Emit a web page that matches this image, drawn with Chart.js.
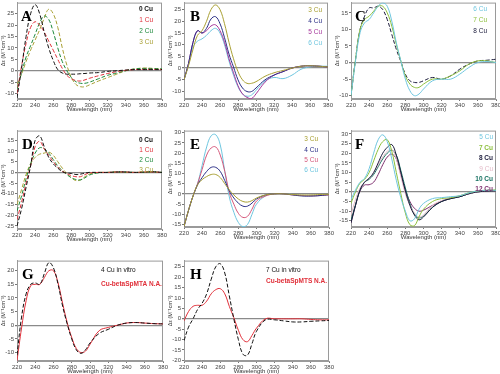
<!DOCTYPE html>
<html>
<head>
<meta charset="utf-8">
<script src="https://cdn.jsdelivr.net/npm/chart.js@4.4.0/dist/chart.umd.min.js"></script>
<style>
  body { margin: 0; background: #fff; width: 500px; height: 374px; position: relative; overflow: hidden; }
  canvas { position: absolute; }
</style>
</head>
<body>
<script>
// shared wavelength grid (nm)
const wl = [220, 225, 230, 235, 240, 245, 250, 255, 260, 265, 270, 275, 280, 285, 290, 295, 300, 310, 320, 330, 340, 350, 360, 370, 380];

// Panel A
const labelsA = ['0 Cu', '1 Cu', '2 Cu', '3 Cu'];
const a0 = [-12, 1, 15, 25, 29, 25, 17, 10, 4.5, 0.5, -1, -1.5, -1.5, -1.5, -1.3, -1.2, -1, -0.8, -0.3, 0, 0.3, 0.5, 0.5, 0.5, 0.5];
const a1 = [-10, 2, 12, 19, 21.5, 20, 17, 13, 9, 5, 1, -2, -3.5, -4.3, -4.5, -4, -3.3, -2.2, -1.2, -0.4, 0.2, 0.5, 0.6, 0.6, 0.5];
const a2 = [-8, -1, 6, 11, 16, 21, 24, 22.5, 17, 10, 4, 0, -3, -4.8, -5.5, -5.5, -5, -3.5, -2, -1, 0, 0.8, 1, 1, 0.8];
const a3 = [-6, -1.5, 4, 9, 13.5, 18, 23, 27, 25, 19, 10, 2.5, -3, -6, -7, -7, -6.2, -4.5, -3, -1.5, 0, 0.8, 1.2, 1, 0.8];
const yRangeA = [-12.4, 29.9];

// Panel B
const labelsB = ['3 Cu', '4 Cu', '5 Cu', '6 Cu'];
const b3 = [-5, 1, 8, 14, 16, 20, 25, 27, 25, 19, 11, 4, -1.5, -5, -6.5, -6.5, -5.8, -3.5, -2, -1, 0, 0.8, 1, 0.8, 0.5];
const b4 = [-5, 2, 11, 16, 15, 17, 21, 22, 19, 13, 6, 0.5, -5, -8.5, -10, -10, -8.5, -5, -3, -1.5, 0, 0.8, 1, 0.8, 0.5];
const b5 = [-5, 2, 11, 16, 15, 16, 18, 18.5, 16, 11, 4, -2, -7.5, -11, -12.5, -13, -11, -6, -3, -1.5, 0, 0.8, 1, 0.8, 0.5];
const b6 = [-5, 1.5, 9, 11.5, 12.5, 14, 16, 17, 15, 10, 3, -3, -8, -11, -12, -11.5, -9.5, -5.5, -4, -4.5, -3, -0.5, 0.5, 0.8, 0.8];
const yRangeB = [-13.2, 28];

// Panel C
const labelsC = ['6 Cu', '7 Cu', '8 Cu'];
const c6 = [-10, 0.5, 9, 12, 13, 15, 17, 18, 17, 12.5, 6, 0.5, -5, -8.5, -10, -9.5, -8, -5.5, -5, -5, -3.5, -1.5, 0, 0.3, 0];
const c7 = [-10, 1, 10, 13, 14, 15.5, 17, 17, 15, 11, 5.5, 0.5, -4, -6.5, -7.5, -7.5, -6.5, -5, -5, -4, -2.5, -0.5, 0.5, 0.5, 0];
const c8 = [-10, 1, 10, 14, 16.5, 16.5, 17, 16, 13, 8.5, 4, 0.3, -3.5, -5.5, -6, -6, -5.5, -4.5, -5, -4, -2, -0.5, 0.5, 0.7, 1];
const yRangeC = [-11, 18.1];

// Panel D
const labelsD = ['0 Cu', '1 Cu', '2 Cu', '3 Cu'];
const d0 = [-25, -17, -7, 3, 15, 17, 12, 7, 4, 2, 0.3, -0.3, -0.5, -1, -0.8, -0.3, 0, 0, 0, 0.2, 0.2, 0, 0.2, 0.3, 0];
const d1 = [-22, -14, -5, 3, 12, 14.5, 11, 8, 5, 2.5, 0.5, -0.5, -1.5, -2, -2, -1, -0.3, 0, 0, 0.2, 0.2, 0, 0.2, 0.2, 0];
const d2 = [-18, -11, -3, 4, 9, 11.5, 11, 9, 6, 3, 0.8, -1, -2.5, -3.3, -3.5, -2.5, -1.2, -0.2, 0, 0.2, 0.2, 0, 0, 0.2, 0];
const d3 = [-15, -8, -1, 4, 7, 8.5, 9, 9.5, 8, 5, 2, -0.5, -2.5, -3.8, -3.5, -2, -0.8, 0, 0, 0.2, 0, 0, 0, 0.2, 0];
const yRangeD = [-26.4, 19.5];

// Panel E
const labelsE = ['3 Cu', '4 Cu', '5 Cu', '6 Cu'];
const e3 = [-16, -8, -1, 4.5, 7, 8.5, 9.5, 9.5, 8, 5, 2, -0.5, -2.5, -3.7, -4, -3.3, -2, -0.5, 0, 0, -0.3, -0.5, -0.5, -0.3, -0.2];
const e4 = [-16, -8, -1, 4.5, 8, 11, 13, 13, 11, 6.5, 1.5, -2, -4.5, -6, -6, -4.5, -2.5, -0.5, 0, 0, -0.5, -1, -1, -0.8, -0.3];
const e5 = [-16, -8, -1, 5, 12, 19, 22.5, 23, 19, 11, 0.8, -5, -9.5, -11.5, -11, -7.5, -3.5, -1, 0, 0, -0.5, -0.8, -1, -0.8, -0.5];
const e6 = [-16, -8, -1, 5, 14, 23, 28.5, 29, 24, 11, -1.5, -9, -14, -16, -15, -10, -5, -1, 0, 0, -0.3, -0.8, -1, -0.8, -0.5];
const yRangeE = [-16.2, 31];

// Panel F
const labelsF = ['5 Cu', '7 Cu', '8 Cu', '9 Cu', '10 Cu', '12 Cu'];
const f5 = [-4, 1, 5, 7, 12, 20, 27, 29.5, 26, 17, 6, -3, -10, -15, -14, -9, -6, -3.5, -3, -2.5, -2, -0.5, 0.5, 0.8, 0.8];
const f7 = [-6, 0, 4.5, 6.5, 10, 16, 22, 26, 27, 21, 10, -1, -11, -17, -17.5, -13, -9, -5, -3.5, -3, -2, -0.5, 0.5, 0.8, 1];
const f8 = [-16, -7, 1, 5, 7, 10, 15, 20, 23, 24.5, 19, 10, 0.5, -7, -12, -14.5, -13, -8, -5, -3.5, -2.5, -1, 0, 0.3, 0.5];
const f9 = [-12, -4, 2, 5, 7, 10, 14, 18, 21, 22, 17, 8, -1, -7, -11, -13, -12, -7, -4.5, -3, -2, -1, 0, 0.3, 0.5];
const f10 = [-15, -6.5, 1, 5, 6.5, 9, 13, 17, 20, 21.5, 19, 11, 2, -6, -11.5, -13.5, -12.5, -8, -5, -3.5, -2.5, -1, 0, 0.3, 0.5];
const f12 = [-16, -7, 0.5, 3.5, 3.7, 5, 9, 14, 18, 19.5, 17, 9, 1, -5, -8.5, -10, -9.5, -7, -5, -3.5, -2.5, -1, 0, 0.3, 0.5];
const yRangeF = [-18.2, 31.7];

// Panel G
const labelsG = ['4 Cu in vitro', 'Cu-betaSpMTA N.A.'];
const gVitro = [-11, 3, 11.5, 15, 15.5, 15, 19, 23, 21, 15, 7, 0.5, -5, -9, -10.3, -9, -6.5, -3, -1.5, 0, 0.8, 1, 0.8, 0.6, 0.5];
const gNat = [-13, -1, 9, 14.5, 15, 15, 17.5, 20, 20, 15.5, 8, 1, -4.5, -8.5, -10, -9.5, -7, -2, -0.8, 0, 0.8, 1, 0.8, 0.6, 0.5];
const yRangeG = [-13.1, 23.7];

// Panel H
const labelsH = ['7 Cu in vitro', 'Cu-betaSpMTS N.A.'];
const hVitro = [-10.5, -4, 0, 4.5, 7.5, 12, 19, 25, 26.5, 22, 11, 0, -10, -17, -17.5, -12, -6, -0.5, -0.5, -1, -1.5, -1.5, -1.2, -1, -0.8];
const hNat = [-1, 3.5, 6, 6.5, 6.5, 8.5, 12, 14, 14.5, 12, 6, 0.5, -5.5, -10, -11, -8, -4.5, 0, 0, 0, 0, 0, -0.3, -0.5, -0.5];
const yRangeH = [-20.3, 28];

const FONT = "'Liberation Sans', Arial, sans-serif";
const DASH = [4, 2];

// frame, panel letter and text legend
const deco = {
  id: 'deco',
  beforeDatasetsDraw(chart) {
    const a = chart.chartArea, ctx = chart.ctx;
    ctx.save();
    ctx.strokeStyle = '#9a9a9a';
    ctx.lineWidth = 1;
    ctx.strokeRect(a.left + 0.5, a.top + 0.5, a.right - a.left - 1, a.bottom - a.top - 1);
    ctx.restore();
  },
  afterDraw(chart, args, o) {
    const a = chart.chartArea, ctx = chart.ctx;
    ctx.save();
    ctx.fillStyle = '#000';
    ctx.font = "bold 15px 'Liberation Serif', 'Times New Roman', serif";
    ctx.textBaseline = 'alphabetic';
    ctx.textAlign = 'left';
    ctx.fillText(o.letter, a.left + o.lx, a.top + 18);
    ctx.textBaseline = 'middle';
    ctx.textAlign = o.align;
    const x = o.align === 'right' ? a.right - o.dx : a.left + o.dx;
    chart.data.datasets.forEach((ds, i) => {
      ctx.font = (ds.boldLabel ? 'bold ' : '') + '6.5px ' + FONT;
      ctx.fillStyle = ds.borderColor;
      ctx.fillText(ds.label, x, a.top + o.dy + i * o.gap);
    });
    ctx.restore();
  }
};

function makePanel(rect, yRange, series, legend) {
  const cv = document.createElement('canvas');
  const padTop = 2, padRight = 8, yW = 17, xH = 14;
  cv.width = rect.r - rect.l + yW + padRight;
  cv.height = rect.b - rect.t + padTop + xH;
  cv.style.left = (rect.l - yW) + 'px';
  cv.style.top = (rect.t - padTop) + 'px';
  document.body.appendChild(cv);

  new Chart(cv, {
    type: 'line',
    data: {
      datasets: series.map(s => ({
        label: s.label,
        data: wl.map((x, i) => ({ x: x, y: s.values[i] })),
        borderColor: s.color,
        borderWidth: 1,
        borderDash: s.dash ? DASH : [],
        boldLabel: !!s.bold,
        pointRadius: 0,
        tension: 0.4,
        fill: false
      }))
    },
    options: {
      responsive: false,
      animation: false,
      devicePixelRatio: 1,
      layout: { padding: { left: 0, top: padTop, right: padRight, bottom: 0 } },
      plugins: { legend: { display: false }, tooltip: { enabled: false }, deco: legend },
      scales: {
        x: {
          type: 'linear', min: 220, max: 380,
          afterFit: s => { s.height = xH; },
          ticks: { stepSize: 20, maxRotation: 0, autoSkip: false, padding: 1, color: '#444', font: { size: 6, family: FONT } },
          grid: { color: 'transparent', drawOnChartArea: false, tickColor: '#777', tickLength: 2 },
          border: { color: '#9a9a9a' },
          title: { display: true, text: 'Wavelength (nm)', color: '#333', padding: 0, font: { size: 6, family: FONT } }
        },
        y: {
          min: yRange[0], max: yRange[1],
          afterFit: s => { s.width = yW; },
          ticks: { stepSize: 5, includeBounds: false, padding: 1, color: '#444', font: { size: 6, family: FONT } },
          grid: {
            color: c => (c.tick && c.tick.value === 0 ? '#8a8a8a' : 'transparent'),
            lineWidth: c => (c.tick && c.tick.value === 0 ? 1.3 : 1),
            tickColor: '#777', tickLength: 2
          },
          border: { color: '#9a9a9a' },
          title: { display: true, text: 'Δε (M⁻¹cm⁻¹)', color: '#333', padding: 0, font: { size: 5.5, family: FONT } }
        }
      }
    },
    plugins: [deco]
  });
}

const cBlack = '#111111', cRed = '#e0303a', cGreen = '#1e8a3c', cOlive = '#a9a035';
const cNavy = '#2b2f86', cMagenta = '#a5359a', cCyan = '#6fc6df', cPink = '#d4577a';
const cLime = '#8cbf3c', cDark = '#1c1c3c', cRose = '#e2b8c6', cTeal = '#136e5e', cPurple = '#7e2f6e';

makePanel({ l: 17, r: 162, t: 0, b: 99 }, yRangeA, [
  { label: labelsA[0], values: a0, color: cBlack, dash: true, bold: true },
  { label: labelsA[1], values: a1, color: cRed, dash: true },
  { label: labelsA[2], values: a2, color: cGreen, dash: true },
  { label: labelsA[3], values: a3, color: cOlive, dash: true }
], { letter: 'A', lx: 4, align: 'right', dx: 9, dy: 7, gap: 11 });

makePanel({ l: 184, r: 328, t: 0, b: 99 }, yRangeB, [
  { label: labelsB[0], values: b3, color: cOlive },
  { label: labelsB[1], values: b4, color: cNavy },
  { label: labelsB[2], values: b5, color: cMagenta },
  { label: labelsB[3], values: b6, color: cCyan }
], { letter: 'B', lx: 6, align: 'right', dx: 6, dy: 8, gap: 11 });

makePanel({ l: 351, r: 496, t: 0, b: 99 }, yRangeC, [
  { label: labelsC[0], values: c6, color: cCyan },
  { label: labelsC[1], values: c7, color: cLime },
  { label: labelsC[2], values: c8, color: cDark, dash: true }
], { letter: 'C', lx: 4, align: 'right', dx: 9, dy: 7, gap: 11 });

makePanel({ l: 17, r: 162, t: 128, b: 229 }, yRangeD, [
  { label: labelsD[0], values: d0, color: cBlack, dash: true, bold: true },
  { label: labelsD[1], values: d1, color: cRed, dash: true },
  { label: labelsD[2], values: d2, color: cGreen, dash: true },
  { label: labelsD[3], values: d3, color: cOlive, dash: true }
], { letter: 'D', lx: 5, align: 'right', dx: 9, dy: 10, gap: 10 });

makePanel({ l: 184, r: 329, t: 128, b: 227 }, yRangeE, [
  { label: labelsE[0], values: e3, color: cOlive },
  { label: labelsE[1], values: e4, color: cNavy },
  { label: labelsE[2], values: e5, color: cPink },
  { label: labelsE[3], values: e6, color: cCyan }
], { letter: 'E', lx: 6, align: 'right', dx: 11, dy: 9, gap: 10.3 });

makePanel({ l: 351, r: 496, t: 128, b: 227 }, yRangeF, [
  { label: labelsF[0], values: f5, color: cCyan },
  { label: labelsF[1], values: f7, color: cLime, bold: true },
  { label: labelsF[2], values: f8, color: cDark, bold: true },
  { label: labelsF[3], values: f9, color: cRose },
  { label: labelsF[4], values: f10, color: cTeal, bold: true },
  { label: labelsF[5], values: f12, color: cPurple, bold: true }
], { letter: 'F', lx: 4, align: 'right', dx: 3, dy: 7, gap: 10.4 });

makePanel({ l: 17, r: 163, t: 258, b: 361 }, yRangeG, [
  { label: labelsG[0], values: gVitro, color: cBlack, dash: true },
  { label: labelsG[1], values: gNat, color: cRed, bold: true }
], { letter: 'G', lx: 5, align: 'left', dx: 84, dy: 10, gap: 14 });

makePanel({ l: 184, r: 329, t: 258, b: 361 }, yRangeH, [
  { label: labelsH[0], values: hVitro, color: cBlack, dash: true },
  { label: labelsH[1], values: hNat, color: cRed, bold: true }
], { letter: 'H', lx: 6, align: 'left', dx: 82, dy: 10, gap: 11 });
</script>
</body>
</html>
